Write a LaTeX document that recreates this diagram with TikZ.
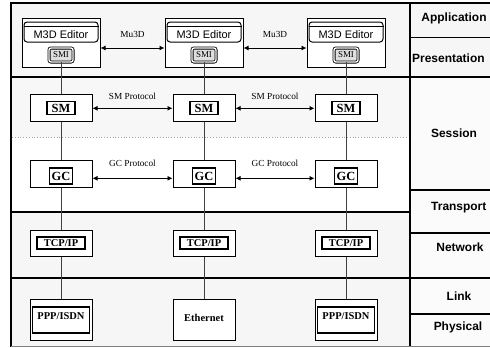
\documentclass[tikz,border=0pt]{standalone}
\usepackage{fontspec}
\setmainfont{Liberation Serif}
\newfontfamily\layerfont{Liberation Sans}
\usetikzlibrary{arrows.meta}

\tikzset{
  rule/.style={line width=1.8bp,black},
  thinrule/.style={line width=0.8bp,black},
  sepline/.style={line width=0.8bp,gray!70,dotted},
  wire/.style={line width=0.8bp,black!75},
  link/.style={line width=0.9bp,black,{Latex[length=5bp,width=5bp]}-{Latex[length=5bp,width=5bp]}},
  layer/.style={font=\layerfont\fontsize{12}{14}\selectfont\bfseries,inner sep=0pt},
  proto/.style={font=\fontsize{9.3}{11}\selectfont,inner sep=0pt},
  edbox/.style={draw=black,line width=1bp,fill=white,minimum width=78bp,minimum height=49bp,inner sep=0pt},
  edtitle/.style={draw=black,line width=1bp,rounded corners=3bp,fill=white,minimum width=74bp,minimum height=20bp,
    text height=12bp,text depth=0pt,inner sep=0pt,font=\layerfont\fontsize{11}{12}\selectfont},
  smibox/.style={draw=black,line width=0.8bp,rounded corners=2bp,double=white,double distance=1.4bp,fill=gray!25,
    minimum width=24bp,minimum height=14bp,inner sep=0pt,font=\fontsize{9}{10}\selectfont},
  outerbox/.style={draw=black,line width=1bp,fill=white,minimum width=62bp,inner sep=0pt},
  innerbox/.style={draw=black,line width=1.2bp,fill=white,inner sep=0pt,font=\fontsize{10.5}{12}\selectfont\bfseries},
  bigbox/.style={innerbox,font=\fontsize{12.5}{14}\selectfont\bfseries},
}

\begin{document}
\begin{tikzpicture}[x=1bp,y=-1bp]
\useasboundingbox (0,0) rectangle (490,347);

% layer bands:
\fill[gray!7] (11,3) rectangle (490,77);
\fill[gray!6] (11,77) rectangle (410,137);
\fill[white] (11,137) rectangle (410,212);
\fill[gray!7] (11,212) rectangle (410,346);
\fill[gray!3] (410,77) rectangle (490,346);

\draw[sepline] (12,137) -- (409,137);
\draw[rule] (490,3) -- (11,3) -- (11,347);
\draw[rule] (410,3) -- (410,347);
\draw[rule] (11,77) -- (490,77);
\draw[rule] (11,212) -- (410,212);
\draw[rule] (11,278) -- (490,278);
\draw[thinrule] (410,37) -- (490,37);
\draw[rule] (410,190) -- (490,190);
\draw[rule] (410,233) -- (490,233);
\draw[rule] (410,314) -- (490,314);
\draw[gray,line width=0.8bp] (11,346) -- (490,346);

\node[layer] (app) at (454,18) {Application};
\node[layer,anchor=west] (pres) at (412,58) {Presentation};
\node[layer] (sess) at (454,133) {Session};
\node[layer,anchor=west] (trans) at (431,208) {Transport};
\node[layer] (net) at (460,247) {Network};
\node[layer] (lnk) at (459,296) {Link};
\node[layer] (phys) at (458,327) {Physical};

% editors:
\node[edbox] (ed1) at (61,42.5) {};
\node[edbox] (ed2) at (204,42.5) {};
\node[edbox] (ed3) at (346,42.5) {};
\node[edtitle] (ttl1) at (61,32) {M3D Editor};
\node[edtitle] (ttl2) at (204,32) {M3D Editor};
\node[edtitle] (ttl3) at (346,32) {M3D Editor};
\draw[line width=0.8bp] ([yshift=-5bp]ttl1.north west) -- ([yshift=-5bp]ttl1.north east);
\draw[line width=0.8bp] ([yshift=-5bp]ttl2.north west) -- ([yshift=-5bp]ttl2.north east);
\draw[line width=0.8bp] ([yshift=-5bp]ttl3.north west) -- ([yshift=-5bp]ttl3.north east);
\node[smibox] (smi1) at (61,55) {SMI};
\node[smibox] (smi2) at (204,55) {SMI};
\node[smibox] (smi3) at (346,55) {SMI};

% session:
\node[outerbox,minimum height=27bp] (sm1) at (61,108.3) {};
\node[outerbox,minimum height=27bp] (sm2) at (204,108.3) {};
\node[outerbox,minimum height=27bp] (sm3) at (346,108.3) {};
\node[bigbox,minimum width=28bp,minimum height=13bp] (smin1) at (61,108.3) {SM};
\node[bigbox,minimum width=28bp,minimum height=13bp] (smin2) at (204,108.3) {SM};
\node[bigbox,minimum width=28bp,minimum height=13bp] (smin3) at (346,108.3) {SM};
\node[outerbox,minimum height=27bp] (gc1) at (61,174) {};
\node[outerbox,minimum height=27bp] (gc2) at (204,174) {};
\node[outerbox,minimum height=27bp] (gc3) at (346,174) {};
\node[bigbox,minimum width=23bp,minimum height=16bp] (gcin1) at (61,176) {GC};
\node[bigbox,minimum width=23bp,minimum height=16bp] (gcin2) at (204,176) {GC};
\node[bigbox,minimum width=23bp,minimum height=16bp] (gcin3) at (346,176) {GC};

% network and link:
\node[outerbox,minimum height=26bp] (tcp1) at (61,243) {};
\node[outerbox,minimum height=26bp] (tcp2) at (204,243) {};
\node[outerbox,minimum height=26bp] (tcp3) at (346,243) {};
\node[innerbox,minimum width=48bp,minimum height=12bp] (tcpin1) at (61,243) {TCP/IP};
\node[innerbox,minimum width=48bp,minimum height=12bp] (tcpin2) at (204,243) {TCP/IP};
\node[innerbox,minimum width=48bp,minimum height=12bp] (tcpin3) at (346,243) {TCP/IP};
\node[outerbox,minimum height=41bp] (lk1) at (61,319.5) {};
\node[outerbox,minimum height=41bp,text height=7bp,text depth=3bp,font=\fontsize{10.5}{12}\selectfont\bfseries] (lk2) at (204,319.5) {Ethernet};
\node[outerbox,minimum height=41bp] (lk3) at (346,319.5) {};
\node[innerbox,line width=1.4bp,minimum width=57bp,minimum height=26bp,text height=7bp,text depth=9bp] (ppp1) at (61,320) {PPP/ISDN};
\node[innerbox,line width=1.4bp,minimum width=57bp,minimum height=26bp,text height=7bp,text depth=9bp] (ppp3) at (346,320) {PPP/ISDN};

% column wires:
\draw[wire] (smi1) -- (sm1);
\draw[wire] (sm1) -- (gc1);
\draw[wire] (gc1) -- (tcp1);
\draw[wire] (tcp1) -- (lk1);
\draw[wire] (smi2) -- (sm2);
\draw[wire] (sm2) -- (gc2);
\draw[wire] (gc2) -- (tcp2);
\draw[wire] (tcp2) -- (lk2);
\draw[wire] (smi3) -- (sm3);
\draw[wire] (sm3) -- (gc3);
\draw[wire] (gc3) -- (tcp3);
\draw[wire] (tcp3) -- (lk3);

% peer protocols:
\draw[link] ([yshift=-5.5bp]ed1.east) -- node[proto,above=10bp] (mu1) {Mu3D} ([yshift=-5.5bp]ed2.west);
\draw[link] ([yshift=-5.5bp]ed2.east) -- node[proto,above=10bp] (mu2) {Mu3D} ([yshift=-5.5bp]ed3.west);
\draw[link] (sm1) -- node[proto,above=8bp] (smp1) {SM Protocol} (sm2);
\draw[link] (sm2) -- node[proto,above=8bp] (smp2) {SM Protocol} (sm3);
\draw[link] ([yshift=-4.3bp]gc1.east) -- node[proto,above=11bp] (gcp1) {GC Protocol} ([yshift=-4.3bp]gc2.west);
\draw[link] ([yshift=-4.3bp]gc2.east) -- node[proto,above=11bp] (gcp2) {GC Protocol} ([yshift=-4.3bp]gc3.west);

\end{tikzpicture}
\end{document}
